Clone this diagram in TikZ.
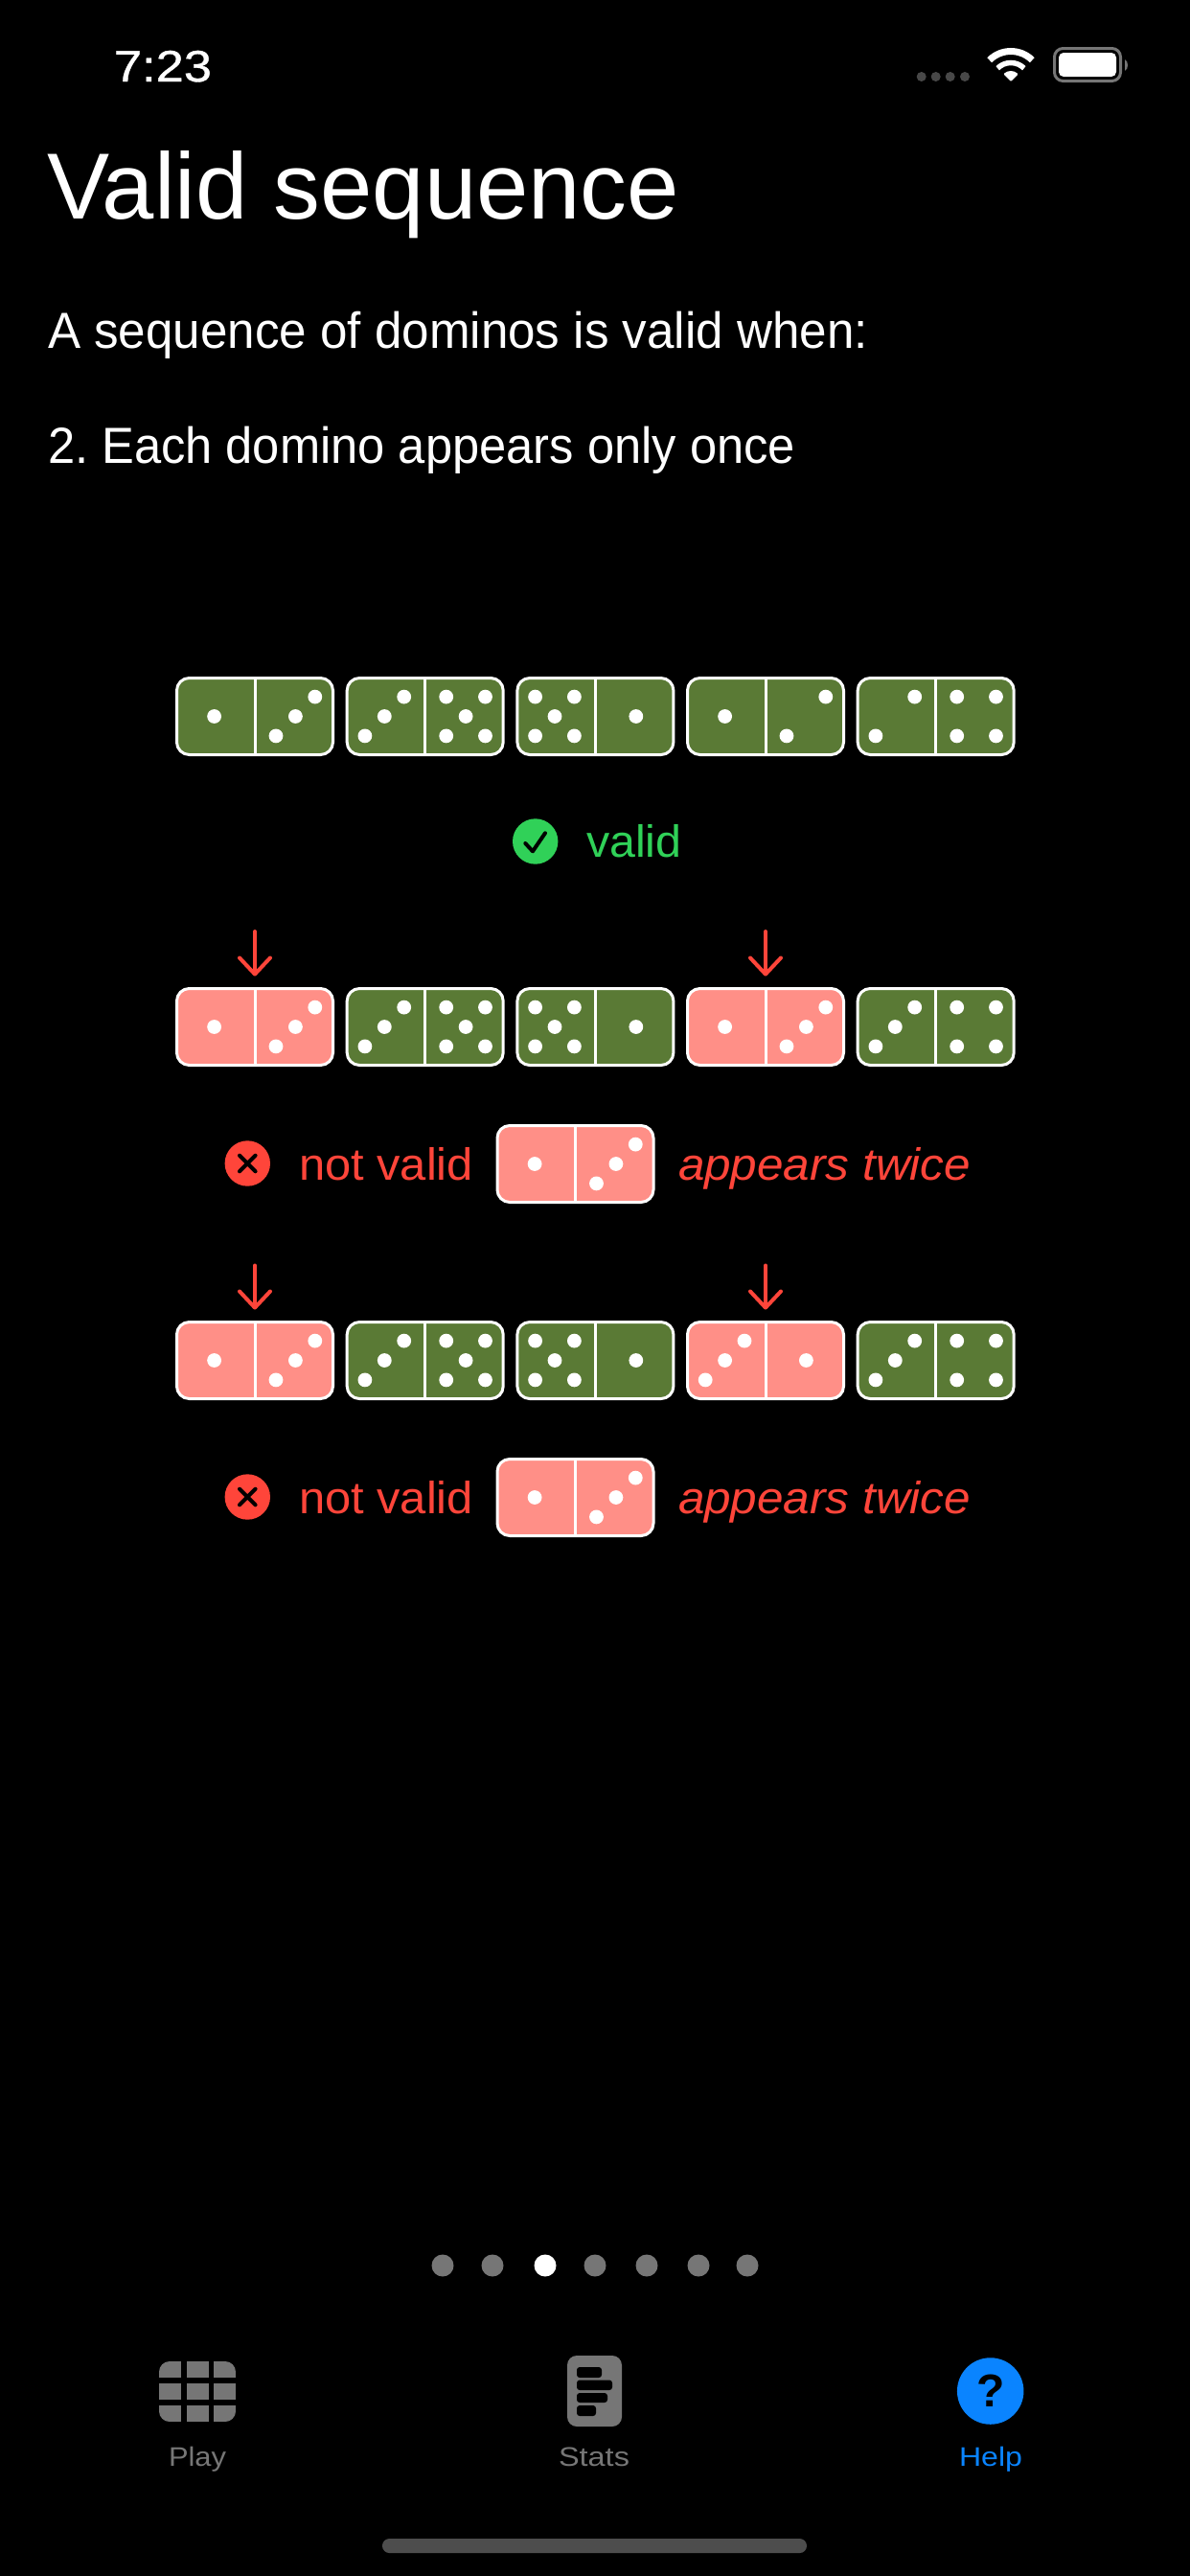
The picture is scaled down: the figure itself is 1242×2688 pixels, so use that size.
\documentclass[tikz,border=0pt]{standalone}
\usepackage{graphicx}
\usepackage{fontspec}
\setmainfont{Liberation Sans}
\newfontfamily\clockfont[FakeBold=0.8]{Liberation Sans}
\frenchspacing
\usetikzlibrary{arrows.meta}
\definecolor{dgreen}{HTML}{5A7A35}
\definecolor{dpink}{HTML}{FF8F87}
\definecolor{sysred}{HTML}{FF453A}
\definecolor{sysgreen}{HTML}{30D158}
\definecolor{sysblue}{HTML}{0A84FF}
\definecolor{tabgray}{HTML}{767676}
\definecolor{sigdark}{HTML}{484848}
\definecolor{homegray}{HTML}{4D4D4D}
\pgfdeclarearrow{
  name=VeeTip,
  setup code={\pgfarrowssettipend{2pt}\pgfarrowssetlineend{-1pt}\pgfarrowssetbackend{-19pt}},
  drawing code={\pgfsetroundcap\pgfsetroundjoin\pgfsetdash{}{0pt}
    \pgfpathmoveto{\pgfpoint{-17pt}{16pt}}
    \pgfpathlineto{\pgfpointorigin}
    \pgfpathlineto{\pgfpoint{-17pt}{-16pt}}
    \pgfusepathqstroke},
}
\newsavebox\fwbox
\newcommand\fw[2]{\sbox\fwbox{#2}\pgfmathsetmacro\fwr{#1/\wd\fwbox}\scalebox{\fwr}[1]{#2}}
\newcommand\fnt[1]{\fontsize{#1}{#1}\selectfont}
\tikzset{
  lbl/.style={inner sep=0pt,outer sep=0pt,anchor=base west,text=white},
  lblc/.style={inner sep=0pt,outer sep=0pt,anchor=base,text=tabgray},
  dominobox/.style={draw=white,line width=3pt,rounded corners=13pt,minimum width=163pt,minimum height=80pt,inner sep=0pt,outer sep=0pt},
  ok/.style={fill=dgreen},
  bad/.style={fill=dpink},
  dominorule/.style={draw=white,line width=3pt},
  pipdot/.style={fill=white},
  flagarrow/.style={draw=sysred,line width=4pt,line cap=round,line join=round,shorten >=13pt,-{VeeTip}},
  badge/.style={circle,inner sep=0pt,outer sep=0pt,minimum size=47.4pt},
  glyph/.style={draw=black,line width=4pt,line cap=round,line join=round},
  pagedot/.style={fill=tabgray},
  stub/.style={fill=black,rounded corners=3pt},
}
\newcommand\pip[2]{\fill[pipdot] (#1,#2) circle[radius=7.4pt];}
\newcommand\dface[3]{\begin{scope}[shift={(#1,#2)}]
  \ifcase#3\or
    \pip{0}{0}\or
    \pip{-20.4}{-20.4}\pip{20.4}{20.4}\or
    \pip{-20.4}{-20.4}\pip{0}{0}\pip{20.4}{20.4}\or
    \pip{-20.4}{-20.4}\pip{20.4}{20.4}\pip{-20.4}{20.4}\pip{20.4}{-20.4}\or
    \pip{-20.4}{-20.4}\pip{20.4}{20.4}\pip{-20.4}{20.4}\pip{20.4}{-20.4}\pip{0}{0}\fi
  \end{scope}}
\newcommand\domino[6]{%
  \node[dominobox,#4] (#1) at (#2,-#3) {};
  \draw[dominorule] (#1.north) -- (#1.south);
  \dface{#2-42.4}{-#3}{#5}
  \dface{#2+42.4}{-#3}{#6}}
\newcommand\notvalid[3]{%
  \node[badge,fill=sysred] (#1x) at (258.3,-#2) {};
  \coordinate (#1xa) at ([shift={(-8.3,8.3)}]#1x.center);
  \coordinate (#1xb) at ([shift={(8.3,-8.3)}]#1x.center);
  \coordinate (#1xc) at ([shift={(-8.3,-8.3)}]#1x.center);
  \coordinate (#1xd) at ([shift={(8.3,8.3)}]#1x.center);
  \draw[glyph] (#1xa) -- (#1xb) (#1xc) -- (#1xd);
  \node[lbl,text=sysred,font=\fnt{47}] (#1nv) at (312,-#3) {\fw{182}{not valid}};
  \node[lbl,text=sysred,font=\fnt{47}\itshape] (#1at) at (708,-#3) {\fw{305}{appears twice}};
  \domino{#1d}{600.5}{#2.5}{bad}{1}{3}}
\begin{document}
\begin{tikzpicture}[x=1pt,y=1pt]
\useasboundingbox (0,0) rectangle (1242,-2688);
\fill[black] (0,0) rectangle (1242,-2688);

% status bar
\node[lbl,font=\clockfont\fnt{46}] (clock) at (119,-85) {\fw{102}{7:23}};
\foreach \x in {961.7,976.7,991.7,1007}{\fill[sigdark] (\x,-80) circle[radius=5pt];}
\draw[white,line width=7pt] (1055,-85)++(45:31.5) arc[start angle=45,end angle=135,radius=31.5pt];
\draw[white,line width=5.5pt] (1055,-85)++(45:19.5) arc[start angle=45,end angle=135,radius=19.5pt];
\fill[white,rounded corners=1pt] (1055,-85) -- ++(45:10.8) arc[start angle=45,end angle=135,radius=10.8pt] -- cycle;
\draw[tabgray,line width=3pt,rounded corners=9pt] (1100.5,-50.5) rectangle (1169.5,-84.5);
\fill[white,rounded corners=5pt] (1105,-55) rectangle (1165,-80);
\fill[tabgray] (1174,-62) .. controls (1178,-64) and (1178,-72) .. (1174,-74) -- cycle;

% headings
\node[lbl,font=\fnt{98}] (title) at (49,-228) {\fw{660}{Valid sequence}};
\node[lbl,font=\fnt{53}] (intro) at (50,-363) {\fw{856}{A sequence of dominos is valid when:}};
\node[lbl,font=\fnt{53}] (rule) at (50,-483) {\fw{780}{2. Each domino appears only once}};

% row 1
\domino{a1}{266}{747.5}{ok}{1}{3}
\domino{a2}{443.7}{747.5}{ok}{3}{5}
\domino{a3}{621.4}{747.5}{ok}{5}{1}
\domino{a4}{799}{747.5}{ok}{1}{2}
\domino{a5}{976.7}{747.5}{ok}{2}{4}

\node[badge,fill=sysgreen] (vb) at (558.7,-878) {};
\coordinate (va) at ([shift={(-10.4,-2)}]vb.center);
\coordinate (vm) at ([shift={(-2.7,-10.3)}]vb.center);
\coordinate (vc) at ([shift={(10.3,8.7)}]vb.center);
\draw[glyph] (va) -- (vm) -- (vc);
\node[lbl,text=sysgreen,font=\fnt{47}] (vt) at (612,-894) {\fw{99.5}{valid}};

% row 2
\domino{b1}{266}{1071.5}{bad}{1}{3}
\domino{b2}{443.7}{1071.5}{ok}{3}{5}
\domino{b3}{621.4}{1071.5}{ok}{5}{1}
\domino{b4}{799}{1071.5}{bad}{1}{3}
\domino{b5}{976.7}{1071.5}{ok}{3}{4}
\coordinate (b1s) at (266,-972);
\coordinate (b4s) at (799,-972);
\draw[flagarrow] (b1s) -- (b1);
\draw[flagarrow] (b4s) -- (b4);
\notvalid{m}{1214}{1231}

% row 3
\domino{c1}{266}{1419.5}{bad}{1}{3}
\domino{c2}{443.7}{1419.5}{ok}{3}{5}
\domino{c3}{621.4}{1419.5}{ok}{5}{1}
\domino{c4}{799}{1419.5}{bad}{3}{1}
\domino{c5}{976.7}{1419.5}{ok}{3}{4}
\coordinate (c1s) at (266,-1320.5);
\coordinate (c4s) at (799,-1320.5);
\draw[flagarrow] (c1s) -- (c1);
\draw[flagarrow] (c4s) -- (c4);
\notvalid{n}{1562}{1579}

% page dots
\foreach \x in {462,514,621,675,729,780}{\fill[pagedot] (\x,-2364) circle[radius=11.5pt];}
\fill[white] (569,-2364) circle[radius=11.5pt];

% tab bar: Play
\begin{scope}
\clip[rounded corners=11pt] (166,-2464) rectangle (246,-2527);
\foreach \xa/\xb in {166/189,194.5/217.5,223/246}{
  \foreach \ya/\yb in {2464/2481,2487/2504,2510/2527}{
    \fill[tabgray] (\xa,-\ya) rectangle (\xb,-\yb);
  }
}
\end{scope}
\node[lblc,font=\fnt{28}] (playt) at (206,-2573) {\fw{60}{Play}};

% tab bar: Stats
\fill[tabgray,rounded corners=10pt] (592,-2458) rectangle (649,-2532);
\fill[stub] (602,-2470) rectangle (628,-2481);
\fill[stub] (602,-2483.5) rectangle (639,-2494);
\fill[stub] (602,-2497) rectangle (634,-2507);
\fill[stub] (602,-2510) rectangle (622,-2521);
\node[lblc,font=\fnt{28}] (statst) at (620,-2573) {\fw{74}{Stats}};

% tab bar: Help
\node[badge,fill=sysblue,minimum size=69.5pt,text=black,font=\fnt{48}\bfseries] (helpi) at (1033.7,-2495) {?};
\node[lblc,text=sysblue,font=\fnt{28}] (helpt) at (1034,-2573) {\fw{66}{Help}};

% home bar
\fill[homegray,rounded corners=7.4pt] (399,-2649) rectangle (842,-2664);
\end{tikzpicture}
\end{document}
